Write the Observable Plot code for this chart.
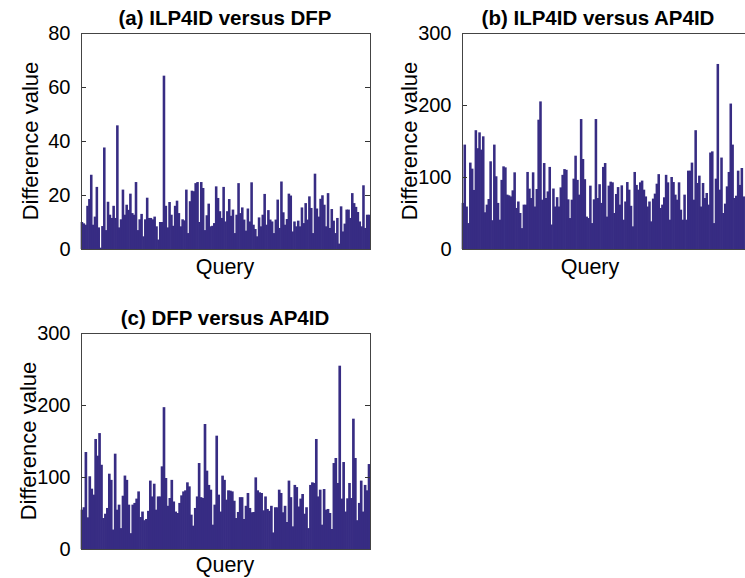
<!DOCTYPE html>
<html><head><meta charset="utf-8">
<script src="https://cdn.jsdelivr.net/npm/d3@7"></script>
<script src="https://cdn.jsdelivr.net/npm/@observablehq/plot@0.6"></script>
<style>
html,body{margin:0;padding:0;background:#fff;}
#root{position:relative;width:745px;height:578px;overflow:hidden;font-family:"Liberation Sans",Arial,sans-serif;}
.t{position:absolute;white-space:nowrap;color:#000;line-height:1;}
.title{font-weight:bold;font-size:20.5px;transform:translate(-50%,-50%);}
.xl{font-size:21.5px;transform:translate(-50%,-50%);}
.yl{font-size:22px;transform:translate(-50%,-50%) rotate(-90deg);}
.panel{position:absolute;}
</style></head><body><div id="root"></div>
<script>
// (a) ILP4ID versus DFP
const valuesA = [10,9.5,9,16,18.5,27.5,9,12,23,8,0.5,8.5,37.6,7,17.5,12.7,11.5,16,11.5,45.8,8,11,22,12.7,16.4,14.5,20.5,13.3,12.7,24.8,7,11,13,4.7,11,19,11.5,11.5,11,12,8.4,3.5,10,10,64.2,16,8,17.4,12.7,8.6,16,17.9,13.3,8.4,11,10.6,22,5.9,17.7,21.6,21.4,24.4,24.8,10,24.8,22.6,7,12.5,16.8,8.4,8.6,9.6,23.2,18.9,14,11.5,23,10.2,14,18.5,
12.3,14.6,5.9,12.7,24.4,13.3,15.4,10.9,6.8,15,10.2,24.7,9,7.4,4.7,11.7,8.4,12.7,20.4,9,14.4,10.9,10.2,5.9,10.9,18.3,7.8,25,13.6,9,11.1,20.5,19.8,6.5,10.2,8.4,10.5,8.4,15.4,9.6,17,10.9,19.5,15.2,5.9,27.9,15,12,18.6,19.9,16.4,8.4,20.7,7.8,14.8,10.5,5.9,11.5,2,15.8,6.5,9.4,14.6,14.6,11.5,20.7,17,15.6,13.7,10.2,8.4,23.6,7.8,12.7,12.7];
// (b) ILP4ID versus AP4ID
const valuesB = [64,145,59,36,120,111.6,82,165,140,162,138,156.5,51,61.6,69.4,121.8,40,145,101,64,40.7,96,114.8,113.4,75.5,74.5,73,81.5,106.5,57,66,50,29,61.6,61.6,107,83.8,70.8,106.5,59,83.3,179.6,205,68.5,119.4,70.8,80,114,34,84,59,72,59,85.6,103,111,110,69,43,68.5,97.7,129.6,96,75.5,180.5,125,97,45,43,
88,36,69,180.5,70.8,90,64,114,119.4,45,88,93.5,92.6,50,76.4,86,61.6,88.4,40.7,66,93,82.4,60,31.5,107,89,82.4,92.6,95,82.4,73,59,66,38.4,70,76.9,90.7,104,57,61.6,71.8,103,92.6,40.7,100,93,75.5,68.5,92.6,54.6,40.7,75.5,40.7,108.8,108.8,120,68.5,165,91.7,101.9,59,91.7,70.8,77.8,61.6,134,135.6,36,97.7,257,82.4,127,50,63,87,107,202,145,70.8,74,108.8,89,112.5,73];
// (c) DFP versus AP4ID
const valuesC = [54.6,58,134.7,44,101,83.8,75.5,152.8,129.6,161,117,43,49,57,104.6,96,27,132.4,54.6,61.6,29,74,102,96,61.6,22,61.6,64,70,80,44.4,52,40,41.7,53,95,73,90.7,54.6,73,73,114.8,197,98.6,60,70.8,96,66,52,50,64,74.5,80,81.5,92.6,87,47.7,32.4,57,73,119.4,72,70.8,173.6,108.8,89,82.4,33.8,61.6,157.4,75.5,52,101.9,96,68.5,81.5,
81,80,67,43,51.4,72,72,41.7,60,77.8,57,51,51.4,99.5,81.5,78.7,77.8,53.7,73,55.6,53,60,23,58,57.9,82.4,77.8,51,60,37.5,95,72,31.5,89,86,59,70,76.4,49,58,29,89,92.6,91.7,152.8,73,82.4,33.8,83.3,54.6,55.6,50,27.8,119.4,126.4,91.7,254.6,70,120.8,52,70.4,91.7,70.8,181,126.4,40,64,95,52,89,81.5,118];

const ticksA = [0,20,40,60,80];
const ticksBC = [0,100,200,300];
const titles = ["(a) ILP4ID versus DFP","(b) ILP4ID versus AP4ID","(c) DFP versus AP4ID"];
const xLabel = "Query";
const yLabel = "Difference value";

const BAR = "#372c83";
const root = document.getElementById("root");

const layout = [
  {values: valuesA, yMax: 80, ticks: ticksA, px: 81, py: 33, pw: 289, ph: 216, pad: 0, title: titles[0], tx: 225, ty: 18, qx: 225, qy: 268, lx: 31, ly: 141},
  {values: valuesB, yMax: 300, ticks: ticksBC, px: 462, py: 33, pw: 290, ph: 216, pad: 4, title: titles[1], tx: 598, ty: 18, qx: 590, qy: 268, lx: 410, ly: 141},
  {values: valuesC, yMax: 300, ticks: ticksBC, px: 81, py: 333, pw: 289, ph: 216, pad: 0, title: titles[2], tx: 225, ty: 318, qx: 225, qy: 566, lx: 29, ly: 441}
];

for (const p of layout) {
  const ML = 80, MT = 33, MR = 10, MB = 12;
  const n = p.values.length;
  const xMax = n + p.pad;
  const tl = xMax * 5 / p.pw;
  const svg = Plot.plot({
    width: ML + p.pw + MR,
    height: MT + p.ph + MB,
    marginLeft: ML, marginTop: MT, marginRight: MR, marginBottom: MB,
    style: {fontFamily: '"Liberation Sans", Arial, sans-serif', fontSize: "20px", background: "transparent", color: "#000"},
    x: {domain: [0, xMax], axis: null},
    y: {domain: [0, p.yMax], axis: null},
    marks: [
      Plot.rectY(p.values, {x1: (d, i) => i, x2: (d, i) => i + 1, y: d => d, fill: BAR, insetLeft: -0.35, insetRight: -0.35}),
      Plot.ruleY(p.ticks, {y: d => d, x1: 0, x2: tl, stroke: "#333"}),
      Plot.ruleY(p.ticks, {y: d => d, x1: xMax - tl, x2: xMax, stroke: "#333"}),
      Plot.axisY(p.ticks, {tickSize: 0, tickPadding: 11, fontSize: 20, fill: "#000"}),
      Plot.frame({stroke: "#444", strokeWidth: 1})
    ]
  });
  svg.classList.add("panel");
  svg.style.left = (p.px - ML) + "px";
  svg.style.top = (p.py - MT) + "px";
  root.appendChild(svg);

  const t = document.createElement("div");
  t.className = "t title"; t.textContent = p.title;
  t.style.left = p.tx + "px"; t.style.top = p.ty + "px";
  root.appendChild(t);
  const q = document.createElement("div");
  q.className = "t xl"; q.textContent = xLabel;
  q.style.left = p.qx + "px"; q.style.top = p.qy + "px";
  root.appendChild(q);
  const y = document.createElement("div");
  y.className = "t yl"; y.textContent = yLabel;
  y.style.left = p.lx + "px"; y.style.top = p.ly + "px";
  root.appendChild(y);
}
</script>
</body></html>
